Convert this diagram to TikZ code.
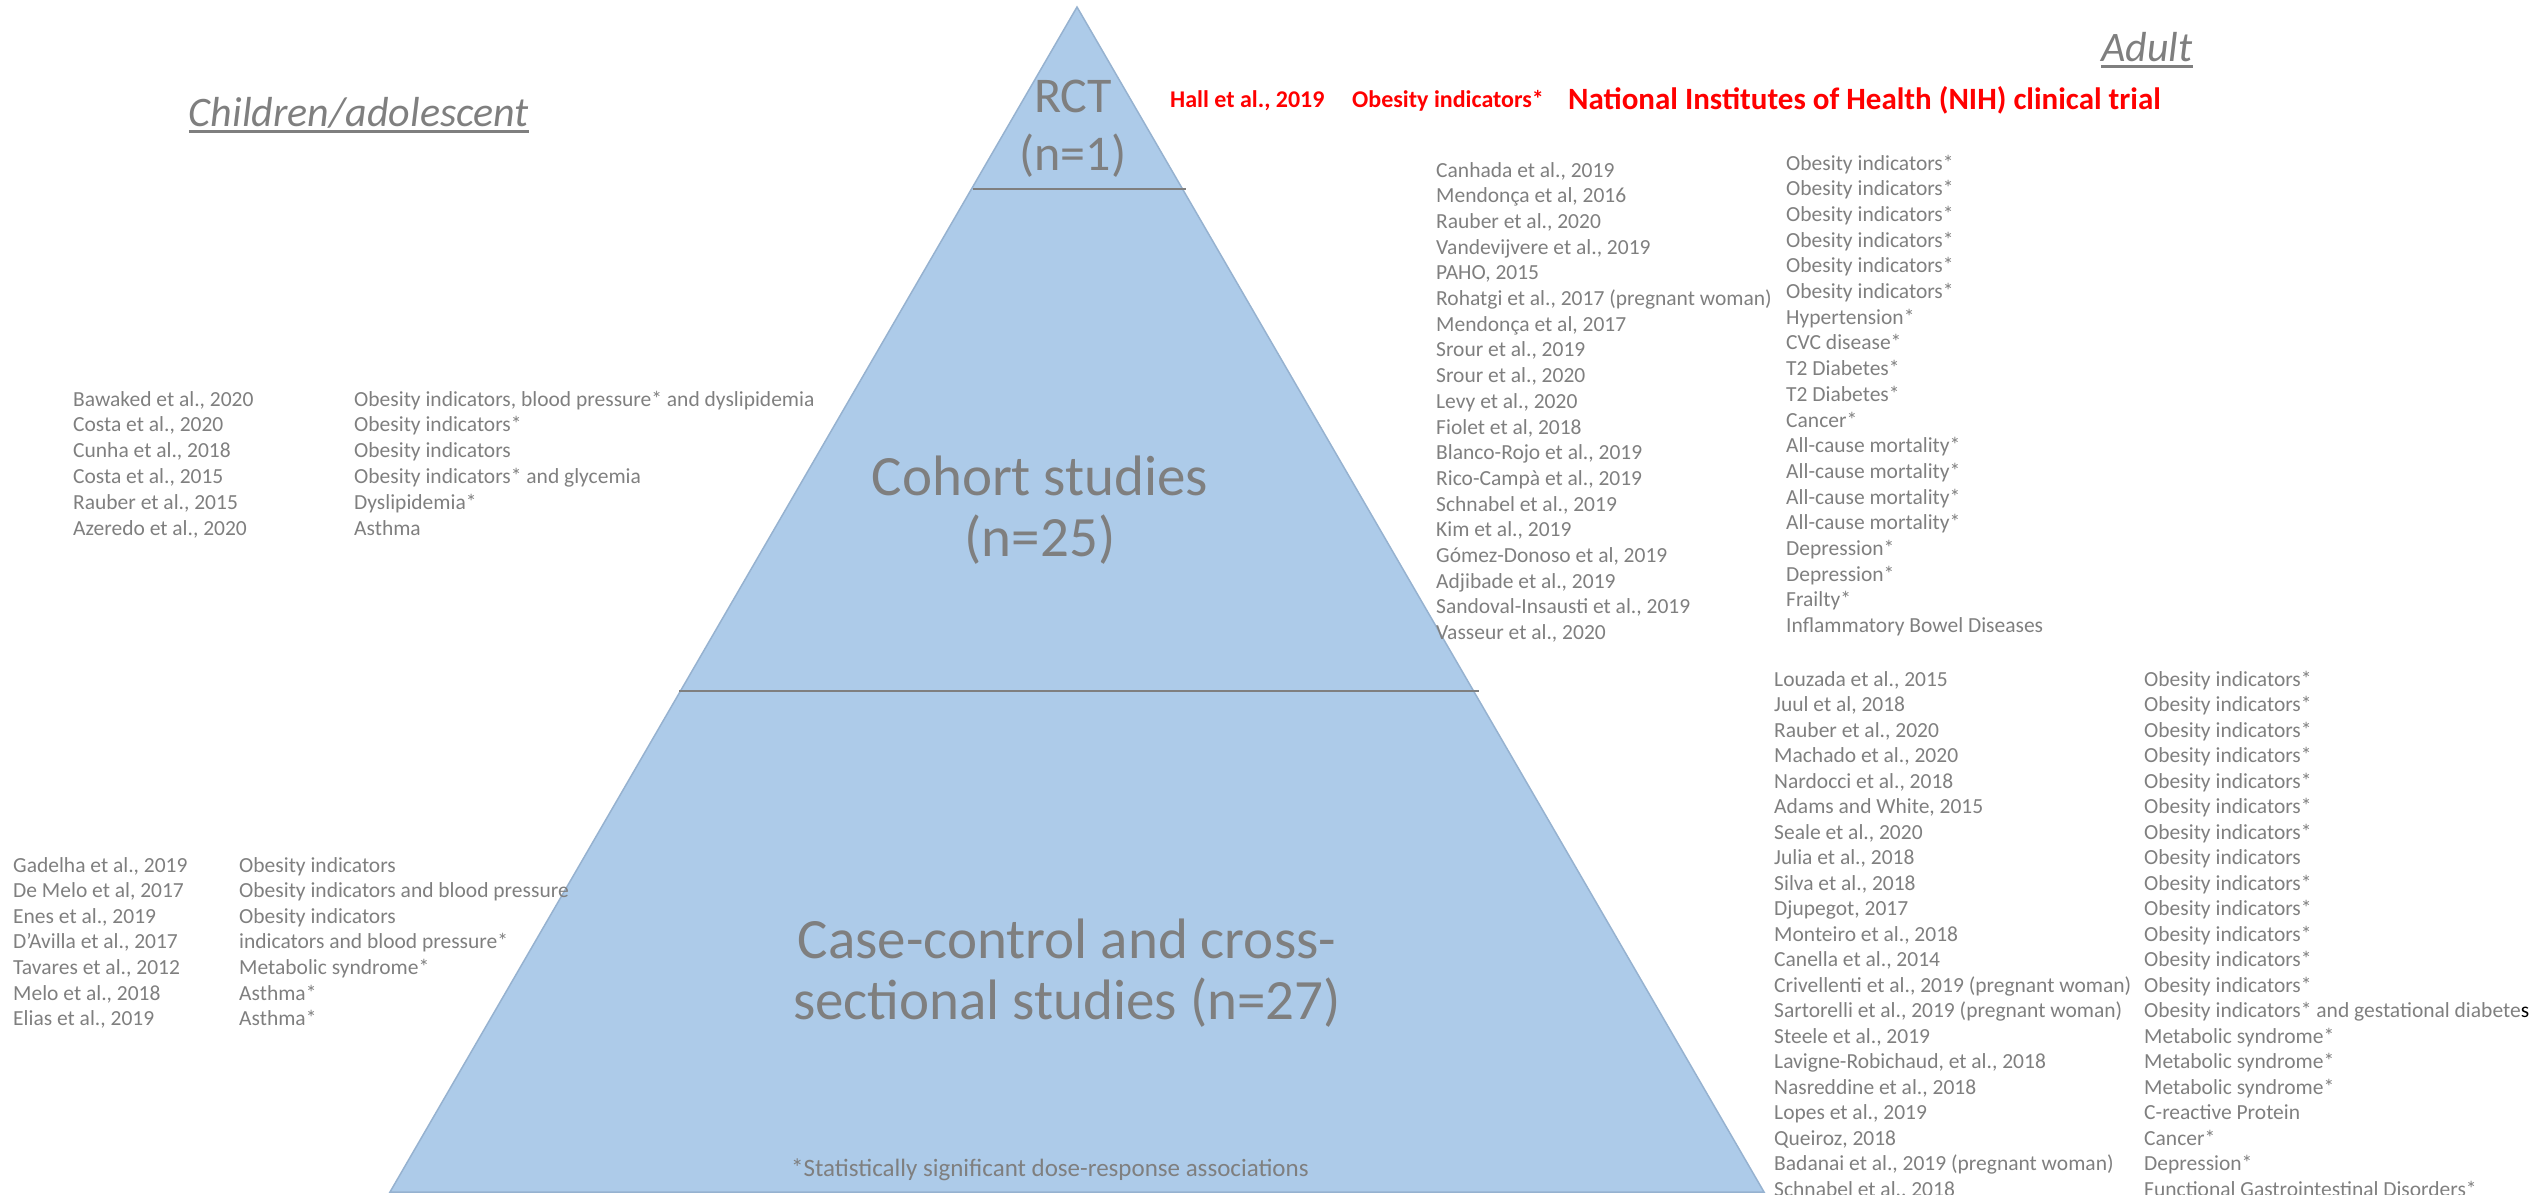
\documentclass[tikz,border=0pt]{standalone}
\usepackage{fontspec}
\setmainfont{Carlito}
\definecolor{txtgray}{RGB}{127,127,127}
\definecolor{pyrfill}{RGB}{173,203,233}
\definecolor{pyredge}{RGB}{150,178,208}
\begin{document}
\begin{tikzpicture}[x=1pt,y=-1pt,
    every node/.style={inner sep=0pt,text=txtgray},
    ref/.style={anchor=base west,font=\fontsize{21.5}{25.7}\selectfont},
    hdr/.style={anchor=base,font=\fontsize{42}{50}\selectfont\itshape},
    lvl/.style={align=center,font=\fontsize{57}{61}\selectfont},
    rct/.style={anchor=base west,text=red,font=\bfseries\fontsize{24}{28}\selectfont},
    uline/.style={txtgray,line width=3pt},
    divider/.style={txtgray,line width=2pt}]
    \useasboundingbox (0,0) rectangle (2535,1194);
    % pyramid
    \coordinate (apex) at (1077,7);
    \coordinate (bl) at (390,1192);
    \coordinate (br) at (1764,1192);
    \draw[fill=pyrfill,draw=pyredge,line width=1.5pt] (apex) -- (br) -- (bl) -- cycle;
    \draw[divider] (973,189) -- (1186,189);
    \draw[divider] (679,691) -- (1479,691);
    % levels
    \node[lvl,font=\fontsize{50}{58}\selectfont] (lrct) at (1073,129) {RCT\\(n=1)};
    \node[lvl] (lcoh) at (1040,510) {Cohort studies\\(n=25)};
    \node[lvl] (lcase) at (1067,973) {Case-control and cross-\\sectional studies (n=27)};
    % headers
    \node[hdr] (kids) at (359,126) {Children/adolescent};
    \draw[uline] ([yshift=-5pt]kids.base west) -- ([yshift=-5pt]kids.base east);
    \node[hdr] (adult) at (2147,61) {Adult};
    \draw[uline] ([yshift=-5pt]adult.base west) -- ([yshift=-5pt]adult.base east);
    % RCT row
    \node[rct] (hall) at (1170,107) {Hall et al., 2019};
    \node[rct] (hallout) at (1352,107) {Obesity indicators*};
    \node[rct,font=\bfseries\fontsize{31}{36}\selectfont] (nih) at (1568,109) {National Institutes of Health (NIH) clinical trial};
    % adult cohort
    \foreach \a/\o [count=\i] in {{Canhada et al., 2019}/{Obesity indicators*},
        {Mendonça et al, 2016}/{Obesity indicators*},
        {Rauber et al., 2020}/{Obesity indicators*},
        {Vandevijvere et al., 2019}/{Obesity indicators*},
        {PAHO, 2015}/{Obesity indicators*},
        {Rohatgi et al., 2017 (pregnant woman)}/{Obesity indicators*},
        {Mendonça et al, 2017}/{Hypertension*},
        {Srour et al., 2019}/{CVC disease*},
        {Srour et al., 2020}/{T2 Diabetes*},
        {Levy et al., 2020}/{T2 Diabetes*},
        {Fiolet et al, 2018}/{Cancer*},
        {Blanco-Rojo et al., 2019}/{All-cause mortality*},
        {Rico-Campà et al., 2019}/{All-cause mortality*},
        {Schnabel et al., 2019}/{All-cause mortality*},
        {Kim et al., 2019}/{All-cause mortality*},
        {Gómez-Donoso et al, 2019}/{Depression*},
        {Adjibade et al., 2019}/{Depression*},
        {Sandoval-Insausti et al., 2019}/{Frailty*},
        {Vasseur et al., 2020}/{Inflammatory Bowel Diseases}}{
        \node[ref] (ca\i) at (1436,{177+25.7*(\i-1)}) {\a};
        \node[ref] (co\i) at (1786,{170+25.7*(\i-1)}) {\o};
    }
    % children cohort
    \foreach \a/\o [count=\i] in {{Bawaked et al., 2020}/{Obesity indicators, blood pressure* and dyslipidemia},
        {Costa et al., 2020}/{Obesity indicators*},
        {Cunha et al., 2018}/{Obesity indicators},
        {Costa et al., 2015}/{Obesity indicators* and glycemia},
        {Rauber et al., 2015}/{Dyslipidemia*},
        {Azeredo et al., 2020}/{Asthma}}{
        \node[ref] (ka\i) at (73,{406+25.9*(\i-1)}) {\a};
        \node[ref] (ko\i) at (354,{406+25.9*(\i-1)}) {\o};
    }
    % children case-control
    \foreach \a/\o [count=\i] in {{Gadelha et al., 2019}/{Obesity indicators},
        {De Melo et al, 2017}/{Obesity indicators and blood pressure},
        {Enes et al., 2019}/{Obesity indicators},
        {D'Avilla et al., 2017}/{indicators and blood pressure*},
        {Tavares et al., 2012}/{Metabolic syndrome*},
        {Melo et al., 2018}/{Asthma*},
        {Elias et al., 2019}/{Asthma*}}{
        \node[ref] (kx\i) at (13,{872+25.6*(\i-1)}) {\a};
        \node[ref] (ky\i) at (239,{872+25.6*(\i-1)}) {\o};
    }
    % adult case-control
    \foreach \a/\o [count=\i] in {{Louzada et al., 2015}/{Obesity indicators*},
        {Juul et al, 2018}/{Obesity indicators*},
        {Rauber et al., 2020}/{Obesity indicators*},
        {Machado et al., 2020}/{Obesity indicators*},
        {Nardocci et al., 2018}/{Obesity indicators*},
        {Adams and White, 2015}/{Obesity indicators*},
        {Seale et al., 2020}/{Obesity indicators*},
        {Julia et al., 2018}/{Obesity indicators},
        {Silva et al., 2018}/{Obesity indicators*},
        {Djupegot, 2017}/{Obesity indicators*},
        {Monteiro et al., 2018}/{Obesity indicators*},
        {Canella et al., 2014}/{Obesity indicators*},
        {Crivellenti et al., 2019 (pregnant woman)}/{Obesity indicators*},
        {Sartorelli et al., 2019 (pregnant woman)}/{Obesity indicators* and gestational diabete{\color{black}s}},
        {Steele et al., 2019}/{Metabolic syndrome*},
        {Lavigne-Robichaud, et al., 2018}/{Metabolic syndrome*},
        {Nasreddine et al., 2018}/{Metabolic syndrome*},
        {Lopes et al., 2019}/{C-reactive Protein},
        {Queiroz, 2018}/{Cancer*},
        {Badanai et al., 2019 (pregnant woman)}/{Depression*},
        {Schnabel et al., 2018}/{Functional Gastrointestinal Disorders*}}{
        \node[ref] (xa\i) at (1774,{686+25.5*(\i-1)}) {\a};
        \node[ref] (xo\i) at (2144,{686+25.5*(\i-1)}) {\o};
    }
    % footnote
    \node[ref,font=\fontsize{25}{30}\selectfont] (note) at (791,1176) {*Statistically significant dose-response associations};
\end{tikzpicture}
\end{document}
